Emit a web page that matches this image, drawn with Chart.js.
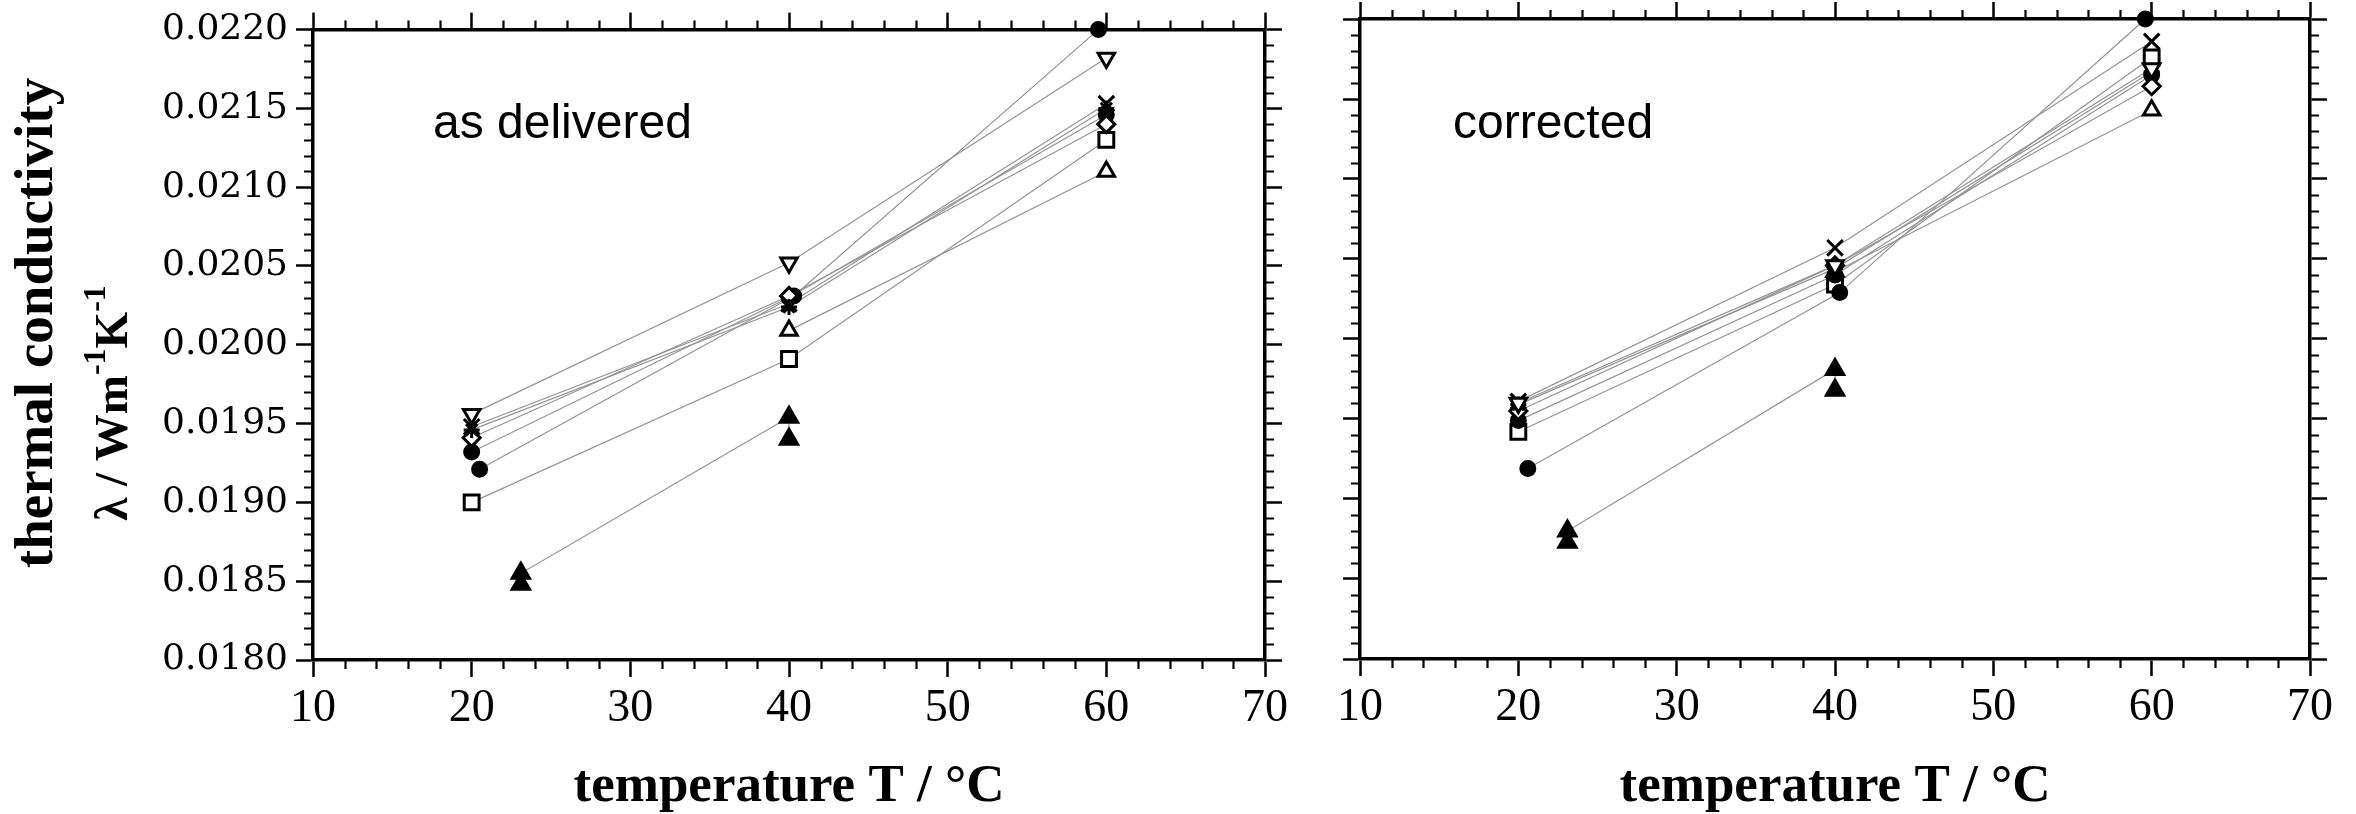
<!DOCTYPE html>
<html><head><meta charset="utf-8">
<script src="https://cdn.jsdelivr.net/npm/chart.js@4.4.0/dist/chart.umd.min.js"></script>
<style>
html,body{margin:0;padding:0;background:#fff;}
#wrap{position:relative;width:2356px;height:814px;background:#fff;overflow:hidden;}
#c1{position:absolute;left:0;top:0;}
#c2{position:absolute;left:1320px;top:0;}
</style></head><body>
<div id="wrap"><canvas id="c1" width="1320" height="814"></canvas><canvas id="c2" width="1036" height="814"></canvas></div>
<script>
// ---------- data ----------
const xTickValues = [10, 20, 30, 40, 50, 60, 70];
const yTickValues = [0.0180, 0.0185, 0.0190, 0.0195, 0.0200, 0.0205, 0.0210, 0.0215, 0.0220];
const xTitle = 'temperature T / °C';
const yTitleLine1 = 'thermal conductivity';
const yTitleLine2 = [['λ / Wm', false], ['-1', true], ['K', false], ['-1', true]];
const panelLabels = ['as delivered', 'corrected'];

const T_std = [20, 40, 60];
const T_late = [40, 60];
const T_dotB_delivered = [20.5, 40.3, 59.5];
const T_dotB_corrected = [20.6, 40.3, 59.6];
const T_triFilled = [23.1, 23.1, 40, 40];

// "as delivered"
const delivered_triDown = [0.01956, 0.02052, 0.02182];
const delivered_cross   = [0.01948, 0.02026, 0.02153];
const delivered_star    = [0.01946, 0.02024, 0.02150];
const delivered_diamond = [0.01941, 0.02031, 0.02140];
const delivered_dotA    = [0.01932, 0.02030, 0.02146];
const delivered_dotB    = [0.01921, 0.02031, 0.02200];
const delivered_square  = [0.01900, 0.01991, 0.02130];
const delivered_triUp   = [0.02009, 0.02110];
const delivered_triFill = [0.01848, 0.01855, 0.01954, 0.01940];

// "corrected"
const corrected_triDown = [0.01960, 0.02046, 0.02169];
const corrected_cross   = [0.01961, 0.02057, 0.02186];
const corrected_star    = [0.01959, 0.02044, 0.02167];
const corrected_diamond = [0.01955, 0.02046, 0.02158];
const corrected_dotA    = [0.01949, 0.02040, 0.02165];
const corrected_dotB    = [0.01919, 0.02029, 0.02200];
const corrected_square  = [0.01942, 0.02034, 0.02176];
const corrected_triUp   = [0.02042, 0.02143];
const corrected_triFill = [0.01873, 0.01880, 0.01981, 0.01968];

// ---------- styles ----------
const STY = {
  triDown: {pointStyle: 'triangle', rotation: 180, radius: 9.5, fill: '#fff'},
  cross:   {pointStyle: 'crossRot', rotation: 0, radius: 11, fill: '#fff'},
  star:    {pointStyle: 'star', rotation: 0, radius: 8, fill: '#fff'},
  diamond: {pointStyle: 'rectRot', rotation: 0, radius: 8.5, fill: '#fff'},
  dot:     {pointStyle: 'circle', rotation: 0, radius: 7, fill: '#000'},
  square:  {pointStyle: 'rect', rotation: 0, radius: 10.5, fill: '#fff'},
  triUp:   {pointStyle: 'triangle', rotation: 0, radius: 9.5, fill: '#fff'},
  triFill: {pointStyle: 'triangle', rotation: 0, radius: 10, fill: '#000'}
};

function pts(T, V) { return T.map((t, i) => ({x: t, y: V[i]})); }

function buildDatasets(series) {
  const lines = series.map(s => ({
    data: pts(s.T, s.V), showLine: true, borderColor: '#949494', borderWidth: 1.2,
    pointRadius: 0, order: 1, clip: false
  }));
  const marks = series.map(s => ({
    data: pts(s.T, s.V), showLine: false, pointStyle: s.st.pointStyle, rotation: s.st.rotation,
    pointRadius: s.st.radius, pointBackgroundColor: s.st.fill, pointBorderColor: '#000',
    pointBorderWidth: 3, order: 0, clip: false
  }));
  return lines.concat(marks);
}

const deliveredSeries = [
  {T: T_std, V: delivered_triDown, st: STY.triDown},
  {T: T_std, V: delivered_cross, st: STY.cross},
  {T: T_std, V: delivered_star, st: STY.star},
  {T: T_std, V: delivered_diamond, st: STY.diamond},
  {T: T_std, V: delivered_dotA, st: STY.dot},
  {T: T_dotB_delivered, V: delivered_dotB, st: STY.dot},
  {T: T_std, V: delivered_square, st: STY.square},
  {T: T_late, V: delivered_triUp, st: STY.triUp},
  {T: T_triFilled, V: delivered_triFill, st: STY.triFill}
];
const correctedSeries = [
  {T: T_std, V: corrected_triDown, st: STY.triDown},
  {T: T_std, V: corrected_cross, st: STY.cross},
  {T: T_std, V: corrected_star, st: STY.star},
  {T: T_std, V: corrected_diamond, st: STY.diamond},
  {T: T_std, V: corrected_dotA, st: STY.dot},
  {T: T_dotB_corrected, V: corrected_dotB, st: STY.dot},
  {T: T_std, V: corrected_square, st: STY.square},
  {T: T_late, V: corrected_triUp, st: STY.triUp},
  {T: T_triFilled, V: corrected_triFill, st: STY.triFill}
];

// ---------- scales ----------
const SERIF = '"Liberation Serif", "Times New Roman", serif';
function gridOpts() {
  return {display: true, drawOnChartArea: false, drawTicks: true, tickLength: 17, tickWidth: 2.5, color: '#000'};
}
function makeScales(dims, showYLabels) {
  const setX = s => { s.ticks = xTickValues.map(v => ({value: v})); };
  const setY = s => { s.ticks = yTickValues.map(v => ({value: v})); };
  return {
    x: {type: 'linear', position: 'bottom', min: 10, max: 70, afterBuildTicks: setX,
      ticks: {display: true, color: '#000', font: {family: SERIF, size: 46}, padding: 4, maxRotation: 0, autoSkip: false,
        callback: v => String(v)},
      grid: gridOpts(), border: {display: true, width: 3.5, color: '#000'},
      title: {display: true, text: xTitle, color: '#000', font: {family: SERIF, size: 53, weight: 'bold', lineHeight: 1.0}, padding: {top: 0, bottom: 0}},
      afterFit: s => { s.height = dims.bottom; }},
    x2: {type: 'linear', position: 'top', min: 10, max: 70, afterBuildTicks: setX,
      ticks: {display: false}, grid: gridOpts(), border: {display: true, width: 3.5, color: '#000'},
      afterFit: s => { s.height = dims.top; }},
    y: {type: 'linear', position: 'left', min: 0.018, max: 0.022, afterBuildTicks: setY,
      ticks: {display: showYLabels, color: '#000', font: {family: '"DejaVu Serif", serif', size: 36}, padding: 8,
        callback: v => v.toFixed(4)},
      grid: gridOpts(), border: {display: true, width: 3.5, color: '#000'},
      afterFit: s => { s.width = dims.left; }},
    y2: {type: 'linear', position: 'right', min: 0.018, max: 0.022, afterBuildTicks: setY,
      ticks: {display: false}, grid: gridOpts(), border: {display: true, width: 3.5, color: '#000'},
      afterFit: s => { s.width = dims.right; }}
  };
}

// ---------- plugins ----------
const minorTicks = {
  id: 'minorTicks',
  afterDraw(chart) {
    const {ctx, chartArea: a} = chart;
    const x = chart.scales.x, y = chart.scales.y;
    ctx.save(); ctx.strokeStyle = '#000'; ctx.lineWidth = 2.2; ctx.beginPath();
    for (let i = 10; i <= 70; i += 2) {
      if (i % 10 === 0) continue;
      const px = Math.round(x.getPixelForValue(i)) + 0.5;
      ctx.moveTo(px, a.bottom); ctx.lineTo(px, a.bottom + 9);
      ctx.moveTo(px, a.top); ctx.lineTo(px, a.top - 9);
    }
    for (let k = 180; k <= 220; k++) {
      if (k % 5 === 0) continue;
      const py = Math.round(y.getPixelForValue(k / 10000)) + 0.5;
      ctx.moveTo(a.left, py); ctx.lineTo(a.left - 9, py);
      ctx.moveTo(a.right, py); ctx.lineTo(a.right + 9, py);
    }
    ctx.stroke(); ctx.restore();
  }
};
function panelLabel(text, px, py) {
  return {
    id: 'panelLabel',
    afterDraw(chart) {
      const ctx = chart.ctx; ctx.save();
      ctx.fillStyle = '#000'; ctx.font = '48px "Liberation Sans", Arial, sans-serif';
      ctx.textAlign = 'left'; ctx.textBaseline = 'alphabetic';
      ctx.fillText(text, px, py); ctx.restore();
    }
  };
}
const yTitlePlugin = {
  id: 'yTitle',
  afterDraw(chart) {
    const ctx = chart.ctx;
    ctx.save(); ctx.fillStyle = '#000';
    ctx.translate(52, 323); ctx.rotate(-Math.PI / 2);
    ctx.font = 'bold 55px ' + SERIF; ctx.textAlign = 'center'; ctx.textBaseline = 'alphabetic';
    ctx.fillText(yTitleLine1, 0, 0);
    ctx.restore();
    const big = 'bold 47px ' + SERIF, small = 'bold 32px ' + SERIF;
    ctx.save(); ctx.fillStyle = '#000';
    let total = 0;
    yTitleLine2.forEach(p => { ctx.font = p[1] ? small : big; total += ctx.measureText(p[0]).width; });
    ctx.translate(127, 403); ctx.rotate(-Math.PI / 2);
    ctx.textAlign = 'left'; ctx.textBaseline = 'alphabetic';
    let cx = -total / 2;
    yTitleLine2.forEach(p => {
      ctx.font = p[1] ? small : big;
      ctx.fillText(p[0], cx, p[1] ? -22 : 0);
      cx += ctx.measureText(p[0]).width;
    });
    ctx.restore();
  }
};

function makeChart(id, series, dims, showY, plugins) {
  return new Chart(document.getElementById(id), {
    type: 'scatter',
    data: {datasets: buildDatasets(series)},
    options: {
      responsive: false, animation: false, devicePixelRatio: 1,
      layout: {padding: 0},
      plugins: {legend: {display: false}, tooltip: {enabled: false}},
      scales: makeScales(dims, showY)
    },
    plugins: plugins
  });
}

makeChart('c1', deliveredSeries, {left: 313, right: 55, top: 25, bottom: 154}, true,
  [minorTicks, panelLabel(panelLabels[0], 433, 138), yTitlePlugin]);
makeChart('c2', correctedSeries, {left: 40, right: 46, top: 19, bottom: 155}, false,
  [minorTicks, panelLabel(panelLabels[1], 133, 138)]);
</script>
</body></html>
